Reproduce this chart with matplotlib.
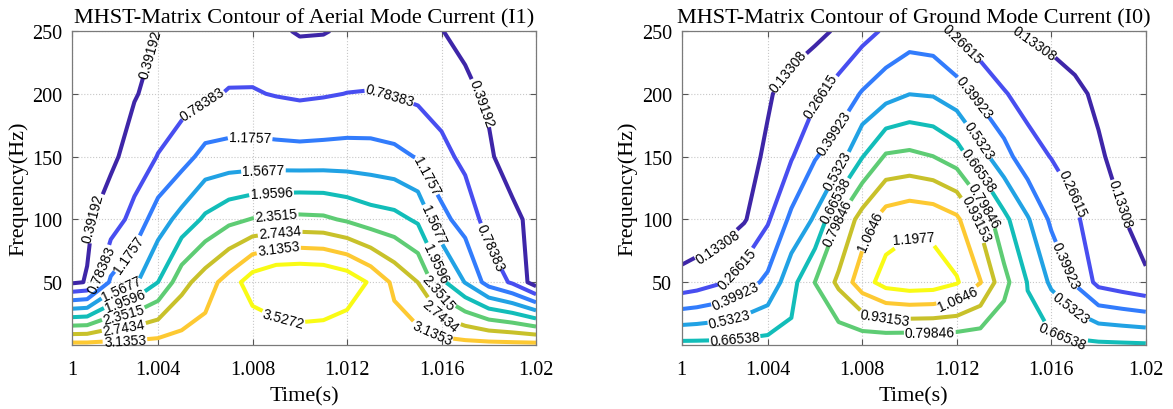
import numpy as np
import matplotlib
matplotlib.use("Agg")
import matplotlib.pyplot as plt

# ---------------- data ----------------
time_s = [1.000, 1.001, 1.002, 1.003, 1.004, 1.005, 1.006, 1.007, 1.008, 1.009, 1.010,
          1.011, 1.012, 1.013, 1.014, 1.015, 1.016, 1.017, 1.018, 1.019, 1.020]
freq_hz = [0, 50, 100, 150, 200, 250]

# Aerial mode current (I1), one list per frequency row
aerial_f0 = [3.25, 3.25, 3.26, 3.27, 3.28, 3.30, 3.33, 3.25, 3.16, 3.20, 3.27,
             3.25, 3.18, 3.22, 3.34, 3.31, 3.29, 3.27, 3.26, 3.25, 3.25]
aerial_f50 = [0.30, 0.41, 1.24, 1.50, 1.96, 2.60, 2.95, 3.30, 3.75, 3.95, 3.98,
              3.95, 3.80, 3.47, 3.05, 2.74, 2.05, 1.55, 1.02, 0.73, 0.20]
aerial_f100 = [0.15, 0.34, 0.57, 0.925, 1.375, 1.70, 2.03, 2.25, 2.37, 2.42, 2.44,
               2.42, 2.30, 2.15, 2.08, 1.90, 1.28, 1.02, 0.627, 0.50, 0.25]
aerial_f150 = [0.10, 0.18, 0.32, 0.54, 0.80, 1.02, 1.30, 1.33, 1.34, 1.33, 1.32,
               1.33, 1.34, 1.33, 1.28, 1.15, 0.90, 0.685, 0.45, 0.19, 0.10]
aerial_f200 = [0.05, 0.12, 0.22, 0.37, 0.50, 0.61, 0.72, 0.81, 0.815, 0.76, 0.72,
               0.75, 0.79, 0.80, 0.76, 0.70, 0.61, 0.47, 0.33, 0.20, 0.12]
aerial_f250 = [0.03, 0.07, 0.13, 0.26, 0.40, 0.47, 0.52, 0.54, 0.52, 0.45, 0.36,
               0.37, 0.45, 0.52, 0.54, 0.50, 0.40, 0.30, 0.20, 0.12, 0.08]

# Ground mode current (I0)
ground_f0 = [0.70, 0.70, 0.70, 0.705, 0.71, 0.70, 0.70, 0.705, 0.70, 0.69, 0.68,
             0.68, 0.69, 0.70, 0.70, 0.70, 0.70, 0.695, 0.69, 0.685, 0.68]
ground_f50 = [0.16, 0.20, 0.255, 0.34, 0.43, 0.62, 0.80, 0.96, 1.14, 1.25, 1.28,
              1.27, 1.21, 1.07, 0.84, 0.66, 0.51, 0.385, 0.23, 0.19, 0.15]
ground_f100 = [0.03, 0.035, 0.05, 0.12, 0.25, 0.43, 0.549, 0.80, 0.99, 1.13, 1.164,
               1.15, 1.09, 0.90, 0.70, 0.545, 0.375, 0.29, 0.18, 0.14, 0.085]
ground_f150 = [0.03, 0.035, 0.05, 0.09, 0.152, 0.255, 0.39, 0.47, 0.66, 0.815, 0.83,
               0.80, 0.73, 0.58, 0.45, 0.316, 0.262, 0.22, 0.15, 0.09, 0.06]
ground_f200 = [0.02, 0.03, 0.05, 0.07, 0.12, 0.18, 0.24, 0.32, 0.41, 0.48, 0.53,
               0.52, 0.46, 0.36, 0.275, 0.22, 0.19, 0.16, 0.11, 0.07, 0.05]
ground_f250 = [0.01, 0.015, 0.02, 0.03, 0.05, 0.07, 0.10, 0.15, 0.22, 0.285, 0.333,
               0.32, 0.24, 0.18, 0.15, 0.12, 0.10, 0.07, 0.05, 0.03, 0.02]

aerial_levels = [0.39192, 0.78383, 1.1757, 1.5677, 1.9596, 2.3515, 2.7434, 3.1353, 3.5272]
ground_levels = [0.13308, 0.26615, 0.39923, 0.5323, 0.66538, 0.79846, 0.93153, 1.0646, 1.1977]

titles = ["MHST-Matrix Contour of Aerial Mode Current (I1)",
          "MHST-Matrix Contour of Ground Mode Current (I0)"]
x_ticks = [1.00036, 1.004, 1.008, 1.012, 1.016, 1.02]
x_tick_labels = ["1", "1.004", "1.008", "1.012", "1.016", "1.02"]
y_ticks = [50, 100, 150, 200, 250]

# label anchor positions (time, frequency)
aerial_label_pos = [
    (1.0010, 103), (1.0037, 232), (1.01754, 192),
    (1.00170, 60), (1.00583, 193), (1.01378, 197.5), (1.01815, 79),
    (1.00290, 70), (1.0079, 165.6), (1.01547, 136),
    (1.00250, 42), (1.00846, 140), (1.01571, 96.5),
    (1.00262, 34), (1.0088, 121.7), (1.01585, 66),
    (1.00254, 24.7), (1.0090, 103), (1.01599, 43),
    (1.00254, 16.7), (1.00917, 87), (1.01606, 24.7),
    (1.00260, 3.5), (1.0091, 76.5), (1.01557, 8.8),
    (1.00931, 22),
]
ground_label_pos = [
    (1.00198, 75), (1.00494, 217), (1.01544, 245), (1.01868, 111),
    (1.00283, 59), (1.00663, 193.5), (1.01227, 241), (1.01671, 119),
    (1.00269, 36.7), (1.00698, 167), (1.01262, 196), (1.01657, 63),
    (1.00240, 19.4), (1.00706, 137.7), (1.01283, 161.6), (1.01678, 28.7),
    (1.00261, 3.5), (1.00706, 113.8), (1.01283, 137.7), (1.01650, 8.8),
    (1.00713, 96.5), (1.01304, 110), (1.01086, 8.8),
    (1.01269, 99), (1.00896, 22),
    (1.00868, 88.5), (1.01206, 36.7),
    (1.01016, 84.5),
]

# parula-like colours for the nine levels
level_colors = ["#3e26a8", "#484ef0", "#327cfc", "#21a2e4", "#12bdb9",
                "#5ecc74", "#c8c12a", "#fdc932", "#f9fb15"]

# ---------------- plotting ----------------
plt.rcParams["font.family"] = ["Liberation Serif", "DejaVu Serif"]

fig = plt.figure(figsize=(11.73, 4.10), dpi=100)
ax_pos = [[0.0614, 0.156, 0.3956, 0.766], [0.5812, 0.156, 0.3956, 0.766]]

datasets = [
    ([aerial_f0, aerial_f50, aerial_f100, aerial_f150, aerial_f200, aerial_f250],
     aerial_levels, aerial_label_pos),
    ([ground_f0, ground_f50, ground_f100, ground_f150, ground_f200, ground_f250],
     ground_levels, ground_label_pos),
]

for i, (rows, levels, lpos) in enumerate(datasets):
    ax = fig.add_axes(ax_pos[i])
    T, F = np.meshgrid(np.array(time_s), np.array(freq_hz, dtype=float))
    Z = np.array(rows)
    cs = ax.contour(T, F, Z, levels=levels, colors=level_colors, linewidths=2.9)
    ax.clabel(cs, fmt="%.5g", fontsize=10, inline=True, inline_spacing=3,
              manual=lpos, colors="black")
    for t in cs.labelTexts:
        t.set_fontfamily(["Liberation Sans", "DejaVu Sans"])
        t.set_clip_on(False)
    ax.set_xlim(1.00036, 1.02)
    ax.set_ylim(0, 250)
    ax.set_xticks(x_ticks)
    ax.set_xticklabels(x_tick_labels)
    ax.set_yticks(y_ticks)
    ax.tick_params(direction="in", length=4, width=0.8, top=True, right=True,
                   labelsize=14.5, color="#555555")
    ax.tick_params(axis="x", pad=11)
    ax.tick_params(axis="y", pad=7)
    ax.grid(True, linestyle=":", color="#c8c8c8", linewidth=0.8)
    ax.set_axisbelow(True)
    for sp in ax.spines.values():
        sp.set_color("#7a7a7a")
        sp.set_linewidth(0.9)
    ax.set_title(titles[i], fontsize=16, pad=6)
    ax.set_xlabel("Time(s)", fontsize=16, labelpad=5)
    ax.set_ylabel("Frequency(Hz)", fontsize=16, labelpad=3)

fig.savefig("out.png", dpi=100)
